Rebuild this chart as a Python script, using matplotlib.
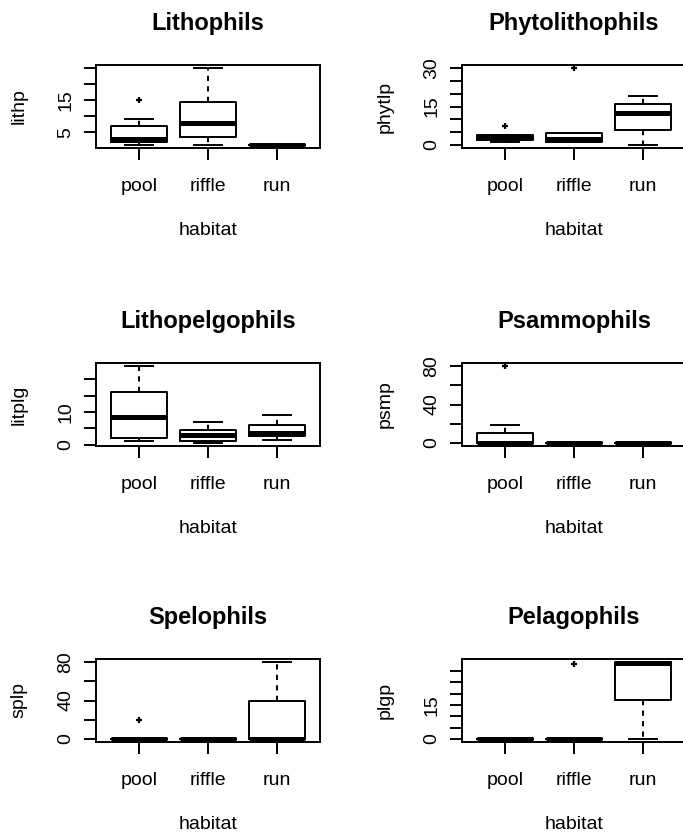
import matplotlib
matplotlib.use('Agg')
import matplotlib.pyplot as plt

plt.rcParams['font.family'] = ['Liberation Sans', 'DejaVu Sans']

habitats = ['pool', 'riffle', 'run']
titles = ['Lithophils', 'Phytolithophils', 'Lithopelgophils',
          'Psammophils', 'Spelophils', 'Pelagophils']
ylabels = ['lithp', 'phytlp', 'litplg', 'psmp', 'splp', 'plgp']

# per habitat (pool, riffle, run): [whisker low, Q1, median, Q3, whisker high]
lithp_stats = [[1, 2, 3, 7, 9], [1, 3.5, 8, 14.5, 25], [1, 1, 1, 1, 1]]
lithp_out = [[15], [], []]
phytlp_stats = [[1, 2, 3, 4, 4], [1, 1, 2.3, 4.5, 4.5], [0, 6, 12.5, 16, 19]]
phytlp_out = [[7.5], [30], []]
litplg_stats = [[1, 2, 8.5, 16, 24], [0.5, 1, 3, 4.5, 7], [1.5, 2.5, 3.5, 6, 9]]
litplg_out = [[], [], []]
psmp_stats = [[0, 0, 0, 10, 19], [0, 0, 0, 0, 0], [0, 0, 0, 0, 0]]
psmp_out = [[80], [], []]
splp_stats = [[0, 0, 0, 0, 0], [0, 0, 0, 0, 0], [0, 0, 0, 40, 80]]
splp_out = [[20], [], []]
plgp_stats = [[0, 0, 0, 0, 0], [0, 0, 0, 0, 0], [0, 17, 33.5, 34, 34]]
plgp_out = [[], [33], []]

all_stats = [lithp_stats, phytlp_stats, litplg_stats, psmp_stats, splp_stats, plgp_stats]
all_out = [lithp_out, phytlp_out, litplg_out, psmp_out, splp_out, plgp_out]

yticks = [[5, 10, 15, 20, 25],
          [0, 5, 10, 15, 20, 25, 30],
          [0, 5, 10, 15, 20],
          [0, 20, 40, 60, 80],
          [0, 20, 40, 60, 80],
          [0, 5, 10, 15, 20, 25, 30]]
yticklabels = [['5', '', '15', '', ''],
               ['0', '', '', '15', '', '', '30'],
               ['0', '', '10', '', ''],
               ['0', '', '40', '', '80'],
               ['0', '', '40', '', '80'],
               ['0', '', '', '15', '', '', '']]

W, H = 683, 840
fig = plt.figure(figsize=(W / 100, H / 100), dpi=100)
col_x = [96, 462]
row_top = [65, 363, 659]
ax_w, ax_h = 224, 83
LW = 1.4

for i in range(6):
    r, c = divmod(i, 2)
    x0 = col_x[c]
    top = row_top[r]
    ax = fig.add_axes([x0 / W, (H - top - ax_h) / H, ax_w / W, ax_h / H])
    stats = []
    vals = []
    for j, h in enumerate(habitats):
        s = all_stats[i][j]
        fl = all_out[i][j]
        stats.append(dict(whislo=s[0], q1=s[1], med=s[2], q3=s[3], whishi=s[4],
                          fliers=fl, label=h))
        vals += list(s) + list(fl)
    ax.bxp(stats, positions=[1, 2, 3], widths=0.8, capwidths=0.4, showfliers=True,
           boxprops=dict(color='black', linewidth=LW),
           whiskerprops=dict(color='black', linewidth=LW, linestyle=(0, (2.7, 2.7))),
           capprops=dict(color='black', linewidth=LW),
           medianprops=dict(color='black', linewidth=3.6, solid_capstyle='butt'),
           flierprops=dict(marker='+', markersize=5, markeredgewidth=1.6,
                           markeredgecolor='black'))
    lo, hi = min(vals), max(vals)
    pad = 0.04 * (hi - lo)
    ax.set_ylim(lo - pad, hi + pad)
    ax.set_xlim(0.38, 3.62)
    ax.set_xticks([1, 2, 3])
    ax.set_xticklabels(habitats)
    ax.set_yticks(yticks[i])
    ax.set_yticklabels(yticklabels[i])
    ax.tick_params(axis='both', length=8.6, width=LW, labelsize=14, direction='out')
    ax.tick_params(axis='x', pad=13.2)
    ax.tick_params(axis='y', pad=7.2)
    for lab in ax.get_yticklabels():
        lab.set_rotation(90)
        lab.set_va('center')
    for sp in ax.spines.values():
        sp.set_linewidth(LW)
    ax.set_xlabel('habitat', fontsize=14, labelpad=19)
    ax.set_ylabel(ylabels[i], fontsize=14, labelpad=21)
    ax.set_title(titles[i], fontsize=17, fontweight='bold', pad=25)

fig.savefig('out.png', dpi=100)
